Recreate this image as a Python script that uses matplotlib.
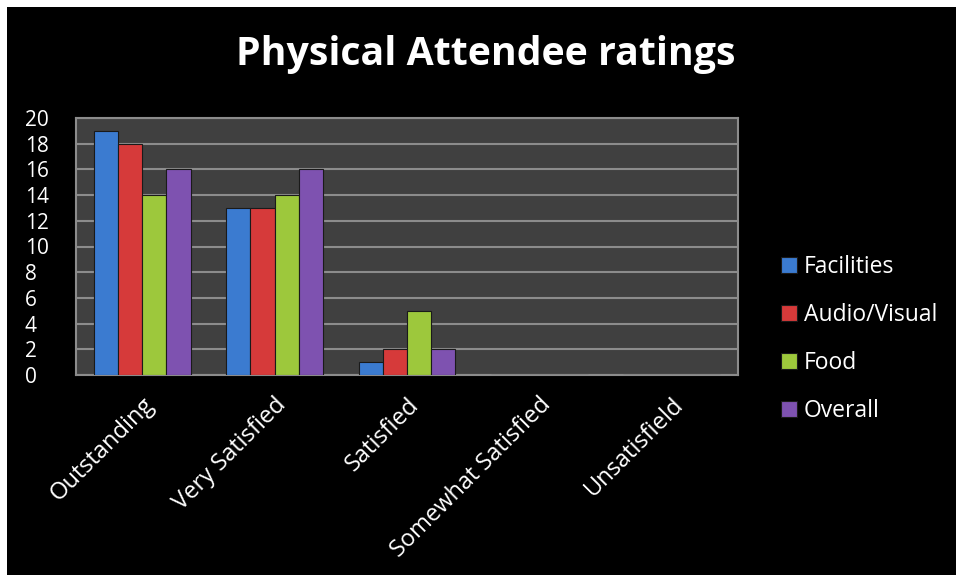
import matplotlib.pyplot as plt
import numpy as np
from matplotlib.patches import Rectangle

categories = ['Outstanding', 'Very Satisfied', 'Satisfied', 'Somewhat Satisfied', 'Unsatisfield']
series_names = ['Facilities', 'Audio/Visual', 'Food', 'Overall']
facilities = [19, 13, 1, 0, 0]
audio_visual = [18, 13, 2, 0, 0]
food = [14, 14, 5, 0, 0]
overall = [16, 16, 2, 0, 0]
y_ticks = [0, 2, 4, 6, 8, 10, 12, 14, 16, 18, 20]

colors = ['#3b7bd0', '#d63a3a', '#9dc83c', '#7e52b0']
plt.rcParams['font.family'] = ['Open Sans', 'DejaVu Sans']

fig = plt.figure(figsize=(9.56, 5.75), dpi=100, facecolor='white')
# black panel, white strip on top and left
fig.patches.append(Rectangle((7 / 956, 0), 1, 1 - 7 / 575, transform=fig.transFigure,
                             facecolor='black', edgecolor='none', zorder=-10))

ax = fig.add_axes([76 / 956, 1 - 375 / 575, (738 - 76) / 956, (375 - 118) / 575])
ax.set_facecolor('#404040')

x = np.arange(len(categories))
width = 0.183
all_series = [facilities, audio_visual, food, overall]
for i, (vals, name) in enumerate(zip(all_series, series_names)):
    ax.bar(x + (i - 1.5) * width, vals, width, color=colors[i], label=name,
           edgecolor='#1a1a1a', linewidth=0.8, zorder=3)

ax.set_xlim(-0.5, len(categories) - 0.5)
ax.set_ylim(0, 20)
ax.set_yticks(y_ticks)
ax.yaxis.grid(True, color='#8c8c8c', linewidth=1.5, zorder=1)
ax.set_axisbelow(True)
for s in ax.spines.values():
    s.set_color('#8c8c8c')
    s.set_linewidth(1.5)
ax.tick_params(axis='both', length=0, colors='white', labelsize=15)
ax.set_xticks(x)
ax.set_xticklabels(categories, rotation=45, ha='right', rotation_mode='anchor', fontsize=17)
ax.tick_params(axis='x', pad=13)
for lbl in ax.get_yticklabels():
    lbl.set_horizontalalignment('left')
ax.tick_params(axis='y', pad=37)

fig.text(0.508, 0.905, 'Physical Attendee ratings', color='white', fontsize=28.3,
         fontweight='bold', ha='center', va='center')

leg = fig.legend(loc='center left', bbox_to_anchor=(760 / 956, 1 - 339 / 575),
                 frameon=False, fontsize=16.5, labelcolor='white', handlelength=0.7,
                 handleheight=0.7, handletextpad=0.3, labelspacing=1.05)

plt.savefig('out.png', dpi=100, facecolor=fig.get_facecolor())
